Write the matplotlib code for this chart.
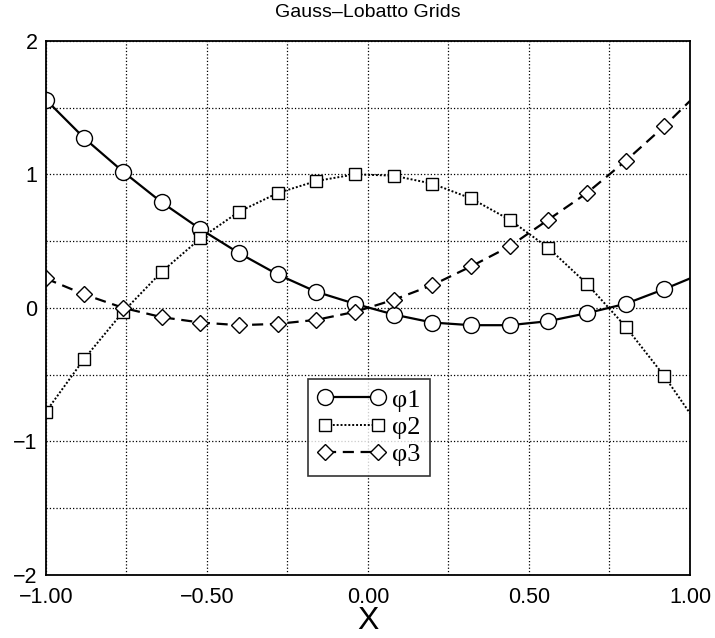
import matplotlib.pyplot as plt
import numpy as np

# Gauss-Lobatto basis functions sampled on the grid (last entry is x = 1)
x = [-1.00, -0.88, -0.76, -0.64, -0.52, -0.40, -0.28, -0.16, -0.04,
     0.08, 0.20, 0.32, 0.44, 0.56, 0.68, 0.80, 0.92, 1.00]
phi1 = [1.56, 1.27, 1.02, 0.79, 0.59, 0.41, 0.25, 0.12, 0.03,
        -0.05, -0.11, -0.13, -0.13, -0.10, -0.04, 0.03, 0.14, 0.22]
phi2 = [-0.78, -0.38, -0.03, 0.27, 0.52, 0.72, 0.86, 0.95, 1.00,
        0.99, 0.93, 0.82, 0.66, 0.45, 0.18, -0.14, -0.51, -0.79]
phi3 = [0.22, 0.10, 0.00, -0.07, -0.11, -0.13, -0.12, -0.09, -0.03,
        0.06, 0.17, 0.31, 0.46, 0.66, 0.86, 1.10, 1.36, 1.55]

plt.rcParams['font.family'] = ['Liberation Sans', 'DejaVu Sans']

fig = plt.figure(figsize=(7.15, 6.38), dpi=100)
ax = fig.add_axes([0.064, 0.099, 0.901, 0.837])

marks = list(range(len(x) - 1))
ax.plot(x, phi1, color='black', lw=1.6, ls='-', marker='o', ms=11.5,
        mfc='white', mec='black', mew=1.0, markevery=marks, label='φ1')
ax.plot(x, phi2, color='black', lw=1.4, ls=(0, (1, 1)), marker='s', ms=9,
        mfc='white', mec='black', mew=1.0, markevery=marks, label='φ2')
ax.plot(x, phi3, color='black', lw=1.6, ls=(0, (5, 3)), marker='D', ms=8,
        mfc='white', mec='black', mew=1.0, markevery=marks, label='φ3')

ax.set_xlim(-1, 1)
ax.set_ylim(-2, 2)
ax.set_xticks([-1.0, -0.5, 0.0, 0.5, 1.0])
ax.set_xticklabels(['\u22121.00', '\u22120.50', '0.00', '0.50', '1.00'])
ax.set_xticks([-0.75, -0.25, 0.25, 0.75], minor=True)
ax.set_yticks([-2, -1, 0, 1, 2])
ax.set_yticklabels(['\u22122', '\u22121', '0', '1', '2'])
ax.set_yticks([-1.5, -0.5, 0.5, 1.5], minor=True)
ax.tick_params(which='both', direction='in', length=0, labelsize=15.5)
ax.tick_params(axis='x', pad=9)
ax.tick_params(axis='y', pad=6)
ax.grid(True, which='both', color='black', ls=':', lw=0.9)
for s in ax.spines.values():
    s.set_linewidth(1.3)

ax.set_title('Gauss\u2013Lobatto Grids', fontsize=14, pad=17)
ax.set_xlabel('X', fontsize=23, labelpad=-2)

leg = ax.legend(loc='upper left', bbox_to_anchor=(0.407, 0.367),
                numpoints=2, frameon=True, fancybox=False,
                edgecolor='black', handlelength=2.6, handletextpad=0.25,
                borderpad=0.35, labelspacing=0.15, borderaxespad=0,
                prop={'family': 'Liberation Serif', 'size': 19})
leg.get_frame().set_linewidth(1.2)

fig.savefig('out.png', dpi=100)
